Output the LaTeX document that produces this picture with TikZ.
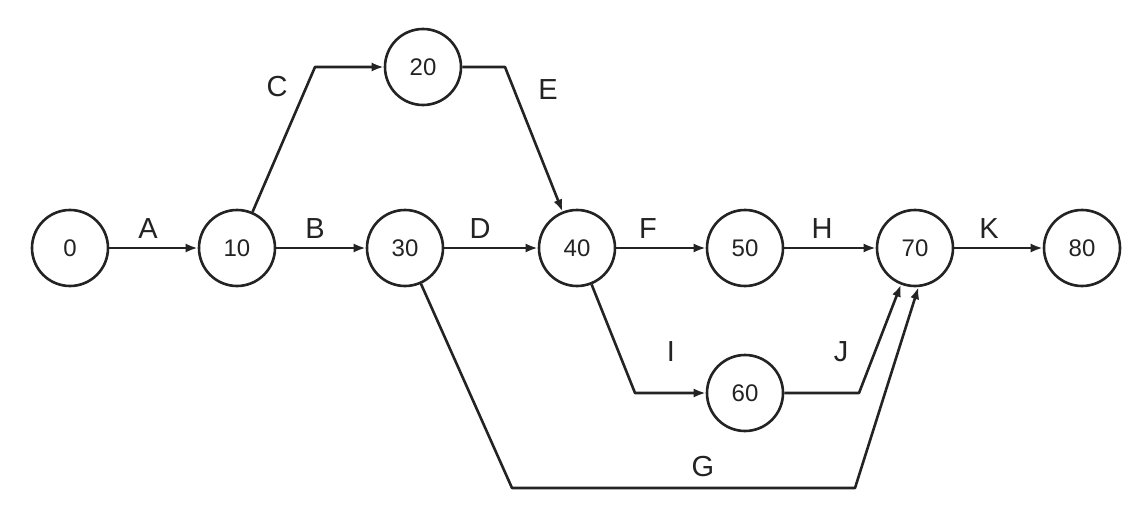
\documentclass[tikz,border=0pt]{standalone}
\usepackage{fontspec}
\setmainfont{Liberation Sans}
\usetikzlibrary{arrows.meta}
\definecolor{ink}{RGB}{35,35,35}
\begin{document}
\begin{tikzpicture}[x=1pt,y=-1pt,
  ev/.style={circle,draw=ink,text=ink,line width=2.6pt,minimum size=76pt,inner sep=0pt,font=\fontsize{24}{24}\selectfont},
  act/.style={draw=ink,line width=2.6pt,line join=round,-{Latex[length=12pt,width=9pt]}},
  lbl/.style={text=ink,font=\fontsize{29}{29}\selectfont}]
\useasboundingbox (0,0) rectangle (1129,508);
\fill[white] (0,0) rectangle (1129,508);
\node[ev] (n0) at (70,248) {0};
\node[ev] (n10) at (237,248) {10};
\node[ev] (n20) at (423,67) {20};
\node[ev] (n30) at (405,248) {30};
\node[ev] (n40) at (577,248) {40};
\node[ev] (n50) at (745,248) {50};
\node[ev] (n60) at (745,393) {60};
\node[ev] (n70) at (915,248) {70};
\node[ev] (n80) at (1082,248) {80};
\coordinate (cC) at (315,67);
\coordinate (eC) at (505,67);
\coordinate (iC) at (635,393);
\coordinate (jC) at (859,393);
\coordinate (g1) at (512,488);
\coordinate (g2) at (855,488);
\draw[act] (n0) -- (n10);
\draw[act] (n10) -- (n30);
\draw[act] (n30) -- (n40);
\draw[act] (n40) -- (n50);
\draw[act] (n50) -- (n70);
\draw[act] (n70) -- (n80);
\draw[act] (n10) -- (cC) -- (n20);
\draw[act] (n20) -- (eC) -- (n40);
\draw[act] (n40) -- (iC) -- (n60);
\draw[act] (n60) -- (jC) -- (n70.-111);
\draw[act] (n30) -- (g1) -- (g2) -- (n70.-85);
\node[lbl] (lA) at (148,229) {A};
\node[lbl] (lB) at (315,229) {B};
\node[lbl] (lC) at (277,87) {C};
\node[lbl] (lD) at (480,229) {D};
\node[lbl] (lE) at (548,90) {E};
\node[lbl] (lF) at (648,229) {F};
\node[lbl] (lH) at (822,229) {H};
\node[lbl] (lK) at (989,229) {K};
\node[lbl] (lI) at (671,352) {I};
\node[lbl] (lJ) at (841,352) {J};
\node[lbl] (lG) at (703,467) {G};
\end{tikzpicture}
\end{document}
